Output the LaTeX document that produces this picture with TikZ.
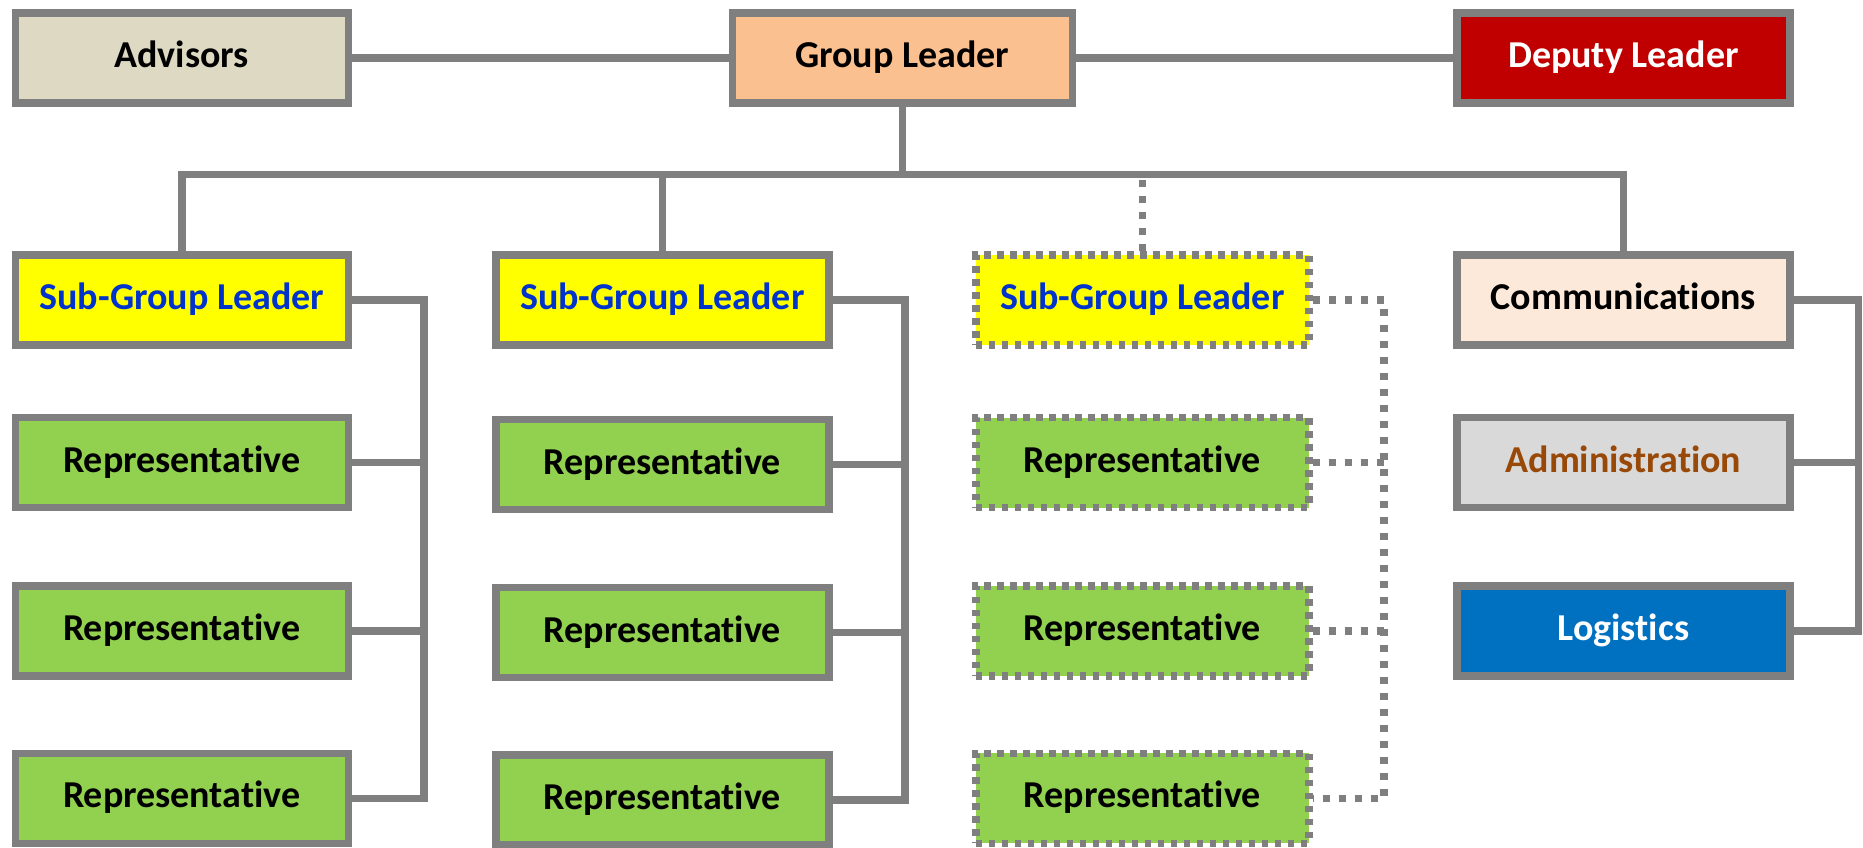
\documentclass[tikz,border=0pt]{standalone}
\usepackage{fontspec}
\setmainfont{Carlito}[Ligatures={NoCommon,NoContextual,NoRare}, Contextuals=NoAlternate, BoldFeatures={Ligatures={NoCommon,NoContextual,NoRare}, Contextuals=NoAlternate}]
\usetikzlibrary{backgrounds}
\definecolor{bordergray}{RGB}{127,127,127}
\definecolor{advfill}{RGB}{221,217,195}
\definecolor{glfill}{RGB}{250,192,144}
\definecolor{depfill}{RGB}{192,0,0}
\definecolor{sgfill}{RGB}{255,255,0}
\definecolor{sgtext}{RGB}{0,51,204}
\definecolor{repfill}{RGB}{146,208,80}
\definecolor{comfill}{RGB}{253,233,217}
\definecolor{admfill}{RGB}{217,217,217}
\definecolor{admtext}{RGB}{152,72,7}
\definecolor{logfill}{RGB}{0,112,192}
\tikzset{
  box/.style={draw=bordergray, line width=7.5pt, rectangle, minimum width=333pt, minimum height=90pt, inner sep=0pt, text height=28pt, text depth=9pt, font=\bfseries\fontsize{38}{44}\selectfont},
  dotbox/.style={box, dash pattern=on 6.5pt off 6.5pt},
  conn/.style={draw=bordergray, line width=7.5pt},
  dotconn/.style={conn, dash pattern=on 7pt off 9pt},
  sgbox/.style={fill=sgfill, text=sgtext},
  repbox/.style={fill=repfill, text=black}
}
\begin{document}
\begin{tikzpicture}[x=1pt,y=-1pt]
\useasboundingbox (0,0) rectangle (1863,848);
% top row
\node[box, fill=advfill] (adv) at (181.8,58) {Advisors};
\node[box, fill=glfill, minimum width=340pt] (gl) at (902.3,58) {Group Leader};
\node[box, fill=depfill, text=white] (dep) at (1623.4,58) {Deputy Leader};
% column 1
\node[box, sgbox] (sg1) at (181.8,300) {Sub-Group Leader};
\node[box, repbox] (r11) at (181.8,462.7) {Representative};
\node[box, repbox] (r12) at (181.8,630.8) {Representative};
\node[box, repbox] (r13) at (181.8,798.3) {Representative};
% column 2
\node[box, sgbox] (sg2) at (662.3,300) {Sub-Group Leader};
\node[box, repbox] (r21) at (662.3,464.5) {Representative};
\node[box, repbox] (r22) at (662.3,632.5) {Representative};
\node[box, repbox] (r23) at (662.3,800) {Representative};
% column 3
\node[dotbox, sgbox] (sg3) at (1142.3,300) {Sub-Group Leader};
\node[dotbox, repbox] (r31) at (1142.3,462.7) {Representative};
\node[dotbox, repbox] (r32) at (1142.3,630.8) {Representative};
\node[dotbox, repbox] (r33) at (1142.3,798.3) {Representative};
% column 4
\node[box, fill=comfill] (com) at (1623.4,300) {Communications};
\node[box, fill=admfill, text=admtext] (adm) at (1623.4,462.7) {Administration};
\node[box, fill=logfill, text=white] (log) at (1623.4,630.8) {Logistics};
% helper coordinates
\coordinate (bus) at (902.3,174.6);
\coordinate (k1) at (424,300);
\coordinate (k2) at (905,300);
\coordinate (k3) at (1384,300);
\coordinate (k4) at (1858.5,300);
\begin{scope}[on background layer]
\draw[conn] (adv.east) -- (gl.west);
\draw[conn] (gl.east) -- (dep.west);
\draw[conn] (gl.south) -- (bus);
\draw[conn, line join=miter] (sg1.north) |- (bus) -| (com.north);
\draw[conn] (sg2.north) -- (sg2.north |- bus);
\draw[dotconn] (sg3.north) -- (sg3.north |- bus);
% column 1 bracket
\draw[conn, line join=miter] (sg1.east) -- (k1) |- (r13.east);
\draw[conn] (r11.east) -- (r11.east -| k1);
\draw[conn] (r12.east) -- (r12.east -| k1);
% column 2 bracket
\draw[conn, line join=miter] (sg2.east) -- (k2) |- (r23.east);
\draw[conn] (r21.east) -- (r21.east -| k2);
\draw[conn] (r22.east) -- (r22.east -| k2);
% column 3 bracket (dotted)
\draw[dotconn] (sg3.east) -- (k3) |- (r33.east);
\draw[dotconn] (r31.east) -- (r31.east -| k3);
\draw[dotconn] (r32.east) -- (r32.east -| k3);
% column 4 bracket
\draw[conn, line join=miter] (com.east) -- (k4) |- (log.east);
\draw[conn] (adm.east) -- (adm.east -| k4);
\end{scope}
\end{tikzpicture}
\end{document}
